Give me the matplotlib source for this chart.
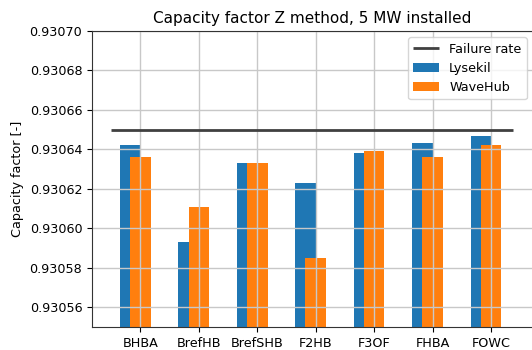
import numpy as np
from matplotlib import pyplot as plt
from matplotlib.ticker import FormatStrFormatter, MultipleLocator

# Data
methods = ["BHBA", "BrefHB", "BrefSHB", "F2HB", "F3OF", "FHBA", "FOWC"]
lysekil = [0.930642, 0.930593, 0.930633, 0.930623, 0.930638, 0.930643, 0.930647]
wavehub = [0.930636, 0.930611, 0.930633, 0.930585, 0.930639, 0.930636, 0.930642]
failure_rate = 0.93065

plt.rcParams["font.size"] = 9.2

fig = plt.figure(figsize=(5.32, 3.5), dpi=100)
ax = fig.add_axes([92 / 532, 23 / 350, 441 / 532, 296 / 350])

x = np.arange(len(methods))
width = 0.35

ax.hlines(failure_rate, -0.5, len(methods) - 1 + 0.375, color="0.25", lw=2, label="Failure rate")
ax.bar(x - width / 2, lysekil, width, color="#1f77b4", label="Lysekil")
ax.bar(x, wavehub, width, color="#ff7f0e", label="WaveHub")

ax.set_xticks(x)
ax.set_xticklabels(methods)
ax.set_xlim(-0.83, 6.72)
ax.set_ylim(0.93055, 0.93070)
ax.yaxis.set_major_locator(MultipleLocator(0.00002))
ax.yaxis.set_major_formatter(FormatStrFormatter("%.5f"))
ax.grid(True, color="#c8c8c8", lw=1)
for spine in ax.spines.values():
    spine.set_color("0.2")

ax.set_title("Capacity factor Z method, 5 MW installed", fontsize=11)
ax.set_ylabel("Capacity factor [-]")
ax.legend(loc="upper right")

fig.savefig("out.png", dpi=100)
